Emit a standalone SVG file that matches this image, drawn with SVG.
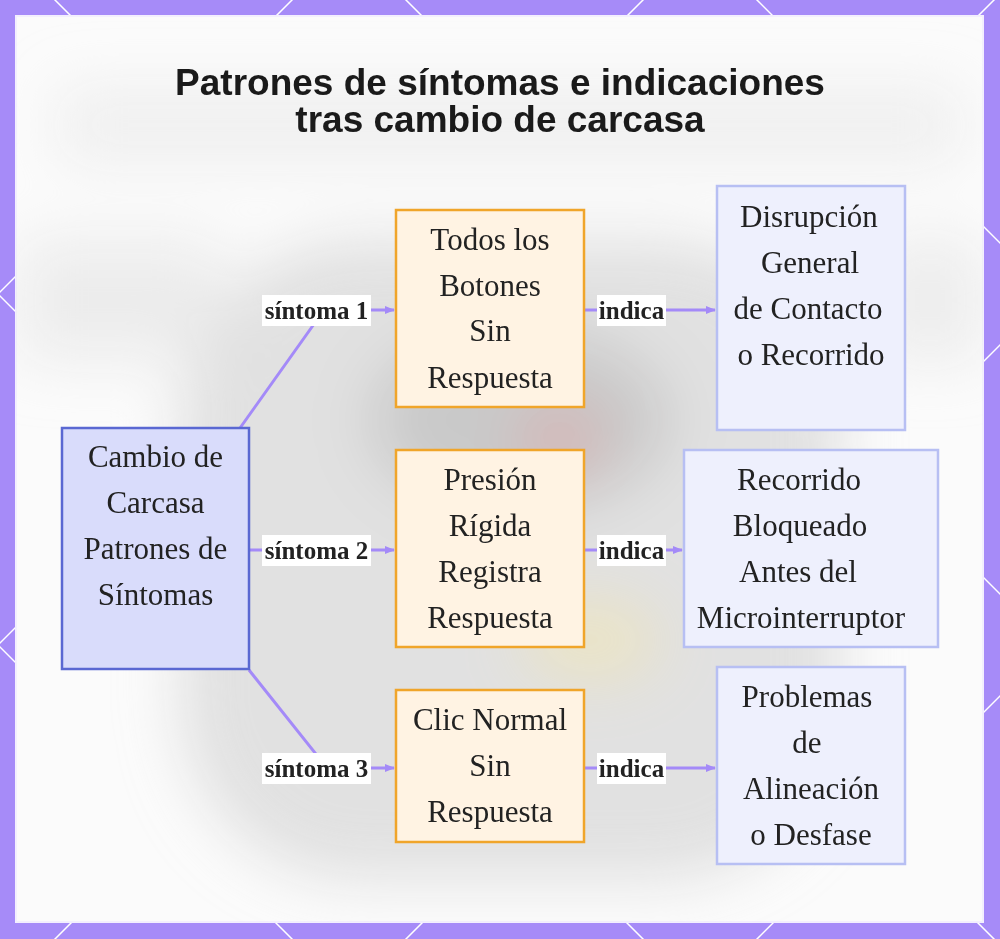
<svg xmlns="http://www.w3.org/2000/svg" width="1000" height="939" viewBox="0 0 1000 939">
  <style>
    .title { font-family: "Liberation Sans", Arial, sans-serif; font-weight: bold; font-size: 37px; fill: #1a1a1a; text-anchor: middle; }
    .nt { font-family: "Liberation Serif", "Times New Roman", serif; font-size: 31px; fill: #222; text-anchor: middle; }
    .lbl { font-family: "Liberation Serif", "Times New Roman", serif; font-weight: bold; font-size: 25px; fill: #222; text-anchor: middle; }
    .lblbg { fill: #ffffff; }
    .src { fill: #d9dcfb; stroke: #5a68d2; stroke-width: 2.5; }
    .mid { fill: #fff3e3; stroke: #f0a52a; stroke-width: 2.5; }
    .dst { fill: #eef0fd; stroke: #b7bff3; stroke-width: 2.5; }
    .edge { fill: none; stroke: #a48af8; stroke-width: 3; }
    .lat { stroke: #ffffff; stroke-width: 1.5; fill: none; }
  </style>
  <defs>
    <marker id="arr" viewBox="0 0 10 10" refX="9" refY="5" markerWidth="10" markerHeight="10" markerUnits="userSpaceOnUse" orient="auto">
      <path d="M0,1 L10,5 L0,9 z" fill="#a48af8"/>
    </marker>
    <filter id="blur" x="-50%" y="-50%" width="200%" height="200%">
      <feGaussianBlur stdDeviation="30"/>
    </filter>
    <clipPath id="panel"><rect x="16" y="16" width="967" height="906"/></clipPath>
  </defs>

  <!-- border -->
  <rect x="0" y="0" width="1000" height="939" fill="#a68bf8"/>
  <g class="lat">
    <line x1="-1000" y1="-1055" x2="2000" y2="1945"/>
    <line x1="-1000" y1="-1406" x2="2000" y2="1594"/>
    <line x1="-1000" y1="-1757" x2="2000" y2="1243"/>
    <line x1="-1000" y1="-704" x2="2000" y2="2296"/>
    <line x1="-1000" y1="-353" x2="2000" y2="2647"/>
    <line x1="-1000" y1="1292" x2="2000" y2="-1708"/>
    <line x1="-1000" y1="1643" x2="2000" y2="-1357"/>
    <line x1="-1000" y1="1994" x2="2000" y2="-1006"/>
    <line x1="-1000" y1="2345" x2="2000" y2="-655"/>
    <line x1="-1000" y1="2696" x2="2000" y2="-304"/>
  </g>

  <!-- panel with blurred backdrop -->
  <rect x="16" y="16" width="967" height="906" fill="#fbfbfb" stroke="#f3effe" stroke-width="2"/>
  <g clip-path="url(#panel)" filter="url(#blur)">
    <rect x="180" y="240" width="660" height="640" rx="180" fill="#d6d6d6" opacity="0.7"/>
    <ellipse cx="520" cy="420" rx="150" ry="90" fill="#b9b9b9" opacity="0.6"/>
    <ellipse cx="560" cy="440" rx="40" ry="30" fill="#e89a9a" opacity="0.5"/>
    <ellipse cx="590" cy="640" rx="70" ry="40" fill="#f1e6b0" opacity="0.6"/>
    <rect x="60" y="90" width="900" height="70" fill="#e6e6e6" opacity="0.6"/>
    <rect x="20" y="240" width="200" height="120" fill="#e2e2e2" opacity="0.6"/>
    <rect x="880" y="240" width="100" height="120" fill="#e2e2e2" opacity="0.6"/>
  </g>

  <!-- title -->
  <g id="title">
    <text class="title" x="500" y="95">Patrones de síntomas e indicaciones</text>
    <text class="title" x="500" y="132">tras cambio de carcasa</text>
  </g>

  <!-- connectors -->
  <g id="connectors">
    <polyline class="edge" points="240,428 324,310 394,310" marker-end="url(#arr)"/>
    <polyline class="edge" points="249,550 394,550" marker-end="url(#arr)"/>
    <polyline class="edge" points="249,670 327,768 394,768" marker-end="url(#arr)"/>
    <polyline class="edge" points="584,310 715,310" marker-end="url(#arr)"/>
    <polyline class="edge" points="584,550 682,550" marker-end="url(#arr)"/>
    <polyline class="edge" points="584,768 715,768" marker-end="url(#arr)"/>
    <g id="lbl-s1"><rect class="lblbg" x="262" y="295" width="109" height="31"/><text class="lbl" x="316.5" y="319">síntoma 1</text></g>
    <g id="lbl-s2"><rect class="lblbg" x="262" y="535" width="109" height="31"/><text class="lbl" x="316.5" y="559">síntoma 2</text></g>
    <g id="lbl-s3"><rect class="lblbg" x="262" y="753" width="109" height="31"/><text class="lbl" x="316.5" y="777">síntoma 3</text></g>
    <g id="lbl-i1"><rect class="lblbg" x="597" y="295" width="69" height="31"/><text class="lbl" x="631.5" y="319">indica</text></g>
    <g id="lbl-i2"><rect class="lblbg" x="597" y="535" width="69" height="31"/><text class="lbl" x="631.5" y="559">indica</text></g>
    <g id="lbl-i3"><rect class="lblbg" x="597" y="753" width="69" height="31"/><text class="lbl" x="631.5" y="777">indica</text></g>
  </g>

  <!-- nodes -->
  <g id="n-source">
    <rect class="src" x="62" y="428" width="187" height="241"/>
    <text class="nt" x="155.5" y="467">Cambio de</text>
    <text class="nt" x="155.5" y="513">Carcasa</text>
    <text class="nt" x="155.5" y="559">Patrones de</text>
    <text class="nt" x="155.5" y="605">Síntomas</text>
  </g>
  <g id="n-sym1">
    <rect class="mid" x="396" y="210" width="188" height="197"/>
    <text class="nt" x="490" y="250">Todos los</text>
    <text class="nt" x="490" y="296">Botones</text>
    <text class="nt" x="490" y="341">Sin</text>
    <text class="nt" x="490" y="388">Respuesta</text>
  </g>
  <g id="n-sym2">
    <rect class="mid" x="396" y="450" width="188" height="197"/>
    <text class="nt" x="490" y="490">Presión</text>
    <text class="nt" x="490" y="536">Rígida</text>
    <text class="nt" x="490" y="582">Registra</text>
    <text class="nt" x="490" y="628">Respuesta</text>
  </g>
  <g id="n-sym3">
    <rect class="mid" x="396" y="690" width="188" height="152"/>
    <text class="nt" x="490" y="730">Clic Normal</text>
    <text class="nt" x="490" y="776">Sin</text>
    <text class="nt" x="490" y="822">Respuesta</text>
  </g>
  <g id="n-ind1">
    <rect class="dst" x="717" y="186" width="188" height="244"/>
    <text class="nt" x="809" y="227">Disrupción</text>
    <text class="nt" x="810" y="273">General</text>
    <text class="nt" x="808" y="319">de Contacto</text>
    <text class="nt" x="811" y="365">o Recorrido</text>
  </g>
  <g id="n-ind2">
    <rect class="dst" x="684" y="450" width="254" height="197"/>
    <text class="nt" x="799" y="490">Recorrido</text>
    <text class="nt" x="800" y="536">Bloqueado</text>
    <text class="nt" x="798" y="582">Antes del</text>
    <text class="nt" x="801" y="628">Microinterruptor</text>
  </g>
  <g id="n-ind3">
    <rect class="dst" x="717" y="667" width="188" height="197"/>
    <text class="nt" x="807" y="707">Problemas</text>
    <text class="nt" x="807" y="753">de</text>
    <text class="nt" x="811" y="799">Alineación</text>
    <text class="nt" x="811" y="845">o Desfase</text>
  </g>
</svg>
